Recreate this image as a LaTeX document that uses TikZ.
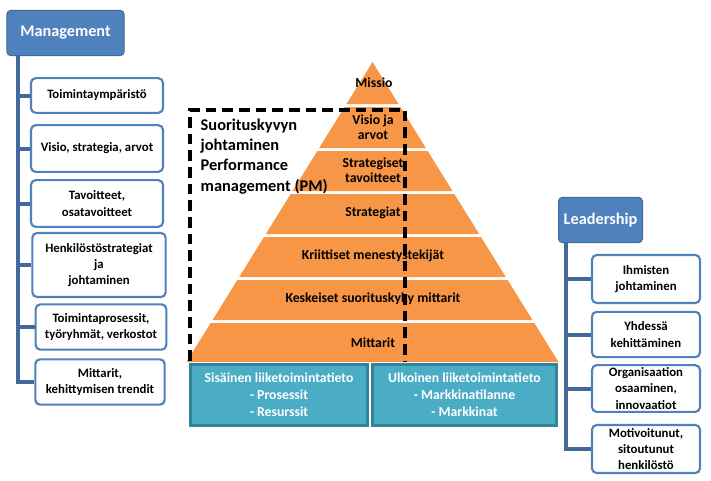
\documentclass[tikz,border=0pt]{standalone}
\usepackage{fontspec}
\setmainfont{Carlito}
\usetikzlibrary{positioning}

\definecolor{headblue}{HTML}{4F81BD}
\definecolor{headedge}{HTML}{41699A}
\definecolor{trunkblue}{HTML}{41699A}
\definecolor{itemedge}{HTML}{4F81BD}
\definecolor{pyrorange}{HTML}{F79646}
\definecolor{infofill}{HTML}{4BACC6}
\definecolor{infoedge}{HTML}{31849B}

\tikzset{
  headbox/.style={fill=headblue,draw=headedge,line width=0.75pt,rounded corners=3pt,
    text=white,font=\bfseries\fontsize{12.2}{14}\selectfont},
  itembox/.style={fill=white,draw=itemedge,line width=1.6pt,rounded corners=3.5pt,
    inner sep=1pt,font=\bfseries\fontsize{9.6}{12.2}\selectfont},
  trunk/.style={draw=trunkblue,line width=3pt},
  level/.style={font=\bfseries\fontsize{10.3}{11}\selectfont},
  infobox/.style={fill=infofill,draw=infoedge,line width=2.2pt,text=white,
    inner sep=1pt,font=\bfseries\fontsize{10.3}{12.8}\selectfont}
}

\begin{document}
\begin{tikzpicture}[x=0.75pt,y=-0.75pt, every node/.style={align=center}]

\useasboundingbox (0,0) rectangle (711,480);

  % Pyramid
  \foreach \t/\b in {62/104,107/148,151/191,194/234,237/277,280/320,323/362}
    \fill[pyrorange] ({372.5-0.62*(\t-62)},\t) -- ({372.5+0.62*(\t-62)},\t)
      -- ({372.5+0.62*(\b-62)},\b) -- ({372.5-0.62*(\b-62)},\b) -- cycle;

  \node[level] (missio) at (374,83) {Missio};
  \node[level] (visio) at (373,127) {Visio ja\\arvot};
  \node[level] (strtav) at (373,170) {Strategiset\\tavoitteet};
  \node[level] (strat) at (373,213) {Strategiat};
  \node[level] (kriit) at (373,256) {Kriittiset menestystekijät};
  \node[level] (kesk) at (373,299) {Keskeiset suorituskyky mittarit};
  \node[level] (mitt) at (373,343) {Mittarit};

  % Performance management (dashed)
  \draw[line width=2.3pt,dash pattern=on 8pt off 4.5pt] (190,361) -- (190,110) -- (405,110) -- (405,361);
  \node[anchor=north west,align=left,font=\bfseries\fontsize{12.3}{15.2}\selectfont] (pm) at (196,114)
    {Suorituskyvyn\\johtaminen\\Performance\\management (PM)};

  % Business information (bottom)
  \node[infobox,minimum width=133pt,minimum height=46pt] (sisa) at (279,395)
    {Sisäinen liiketoimintatieto\\- Prosessit\\- Resurssit};
  \node[infobox,minimum width=138pt,minimum height=46pt] (ulko) at (464.5,395)
    {Ulkoinen liiketoimintatieto\\- Markkinatilanne\\- Markkinat};

  % Management (left)
  \node[headbox,minimum width=88pt,minimum height=34pt] (mgmt) at (65.5,33) {Management};
  \coordinate (mtop) at (18,56);
  \node[itembox,minimum width=99pt,minimum height=26pt] (m1) at (97,95.5) {Toimintaympäristö};
  \node[itembox,minimum width=99pt,minimum height=35pt] (m2) at (97,148.5) {Visio, strategia, arvot};
  \node[itembox,minimum width=99pt,minimum height=35pt] (m3) at (97,203.5) {Tavoitteet,\\osatavoitteet};
  \node[itembox,minimum width=100pt,minimum height=48pt] (m4) at (99,265) {Henkilöstöstrategiat\\ja\\johtaminen};
  \node[itembox,minimum width=98pt,minimum height=34pt] (m5) at (101,327) {Toimintaprosessit,\\työryhmät, verkostot};
  \node[itembox,minimum width=97pt,minimum height=34pt] (m6) at (100,382) {Mittarit,\\kehittymisen trendit};
  \draw[trunk] (mtop) |- (m6.west);
  \foreach \m in {m1,m2,m3,m4,m5}
    \draw[trunk] (mtop |- \m.west) -- (\m.west);

  % Leadership (right)
  \node[headbox,minimum width=63pt,minimum height=34pt] (lead) at (600.5,220) {Leadership};
  \coordinate (ltop) at (566,243);
  \node[itembox,minimum width=81pt,minimum height=36pt] (l1) at (646,279) {Ihmisten\\johtaminen};
  \node[itembox,minimum width=81pt,minimum height=34pt] (l2) at (646,334.5) {Yhdessä\\kehittäminen};
  \node[itembox,minimum width=81pt,minimum height=35pt] (l3) at (646,388.5) {Organisaation\\osaaminen,\\innovaatiot};
  \node[itembox,minimum width=81pt,minimum height=36pt] (l4) at (646,449) {Motivoitunut,\\sitoutunut\\henkilöstö};
  \draw[trunk] (ltop) |- (l4.west);
  \foreach \l in {l1,l2,l3}
    \draw[trunk] (ltop |- \l.west) -- (\l.west);

\end{tikzpicture}
\end{document}
